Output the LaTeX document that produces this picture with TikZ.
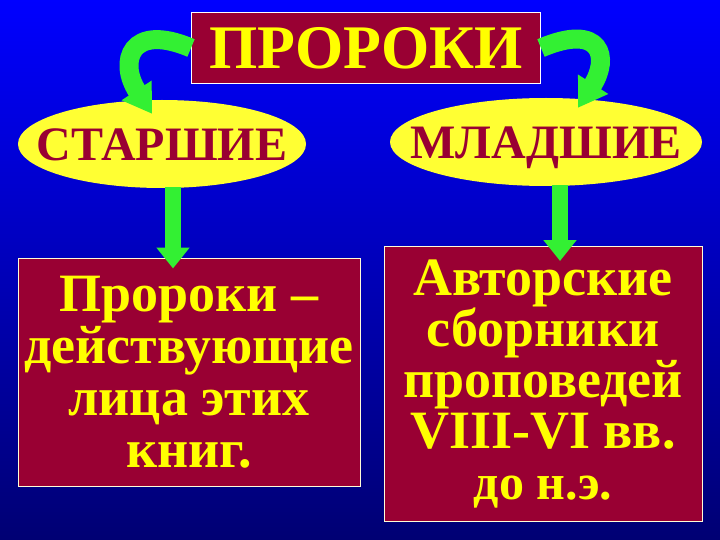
\documentclass[tikz,border=0pt]{standalone}
\usepackage{fontspec}
\setmainfont{Liberation Serif}
\usepackage{tikz}
\usetikzlibrary{arrows.meta,positioning,calc,shapes.geometric}

\definecolor{maroon}{RGB}{153,0,51}
\definecolor{lemon}{RGB}{255,255,0}
\definecolor{oval}{RGB}{255,255,51}
\definecolor{leaf}{RGB}{51,240,51}
\definecolor{skytop}{RGB}{0,0,255}
\definecolor{skymid}{RGB}{0,0,215}
\definecolor{skybot}{RGB}{0,0,115}

\newcommand{\ovaltext}[1]{\raisebox{-17pt}[0pt][0pt]{\makebox[0pt]{#1}}}

\begin{document}
\begin{tikzpicture}[x=1pt, y=-1pt,
  titlebox/.style = {draw=white, line width=1, fill=maroon, text=lemon, font=\fontsize{62}{62}\selectfont\bfseries,
    minimum width=349, minimum height=71, inner sep=0},
  ovalnode/.style = {shape=ellipse, fill=oval, text=maroon, font=\fontsize{48}{48}\selectfont\bfseries, inner sep=0},
  textbox/.style = {draw=white!85!yellow, line width=1, fill=maroon, text=lemon, align=center, inner sep=0},
  bendarrow/.style = {draw=leaf, line width=19, -{Triangle[width=34pt,length=28pt]}},
  downarrow/.style = {draw=leaf, line width=16, -{Triangle[width=32pt,length=21pt]}}]
        \useasboundingbox (0,0) rectangle (720,540);
        \shade[top color=skytop, middle color=skymid, bottom color=skybot] (0,0) rectangle (720,540);
        \node[titlebox] (prophets) at (366,48) {ПРОРОКИ};
        \node[textbox, minimum width=342, minimum height=228, font=\fontsize{54}{52}\selectfont\bfseries] (obox) at (189,372)
          {Пророки –\\действующие\\лица этих\\книг.};
        \node[textbox, minimum width=318, minimum height=275, font=\fontsize{54}{51}\selectfont\bfseries] (ybox) at (543,384)
          {Авторские\\сборники\\проповедей\\VIII-VI вв.\\{\fontsize{50}{50}\selectfont до н.э.}};
        \node[ovalnode, minimum width=288, minimum height=88] (older) at (162,144) {\ovaltext{СТАРШИЕ}};
        \node[ovalnode, minimum width=312, minimum height=88] (younger) at (546,142) {\ovaltext{МЛАДШИЕ}};
        \draw[downarrow] ([xshift=11pt,yshift=1pt]older.south) -- ([xshift=11pt,yshift=-11pt]older.south |- obox.north);
        \draw[downarrow] ([xshift=14pt,yshift=1pt]younger.south) -- ([xshift=14pt,yshift=-15pt]younger.south |- ybox.north);
        \draw[bendarrow] (prophets.west) .. controls (130,22) and (118,62) .. ([xshift=-10pt,yshift=-14pt]older.north);
        \draw[bendarrow] (prophets.east) .. controls (602,22) and (610,58) .. ([xshift=32pt,yshift=-10pt]younger.north);
    \end{tikzpicture}
\end{document}
